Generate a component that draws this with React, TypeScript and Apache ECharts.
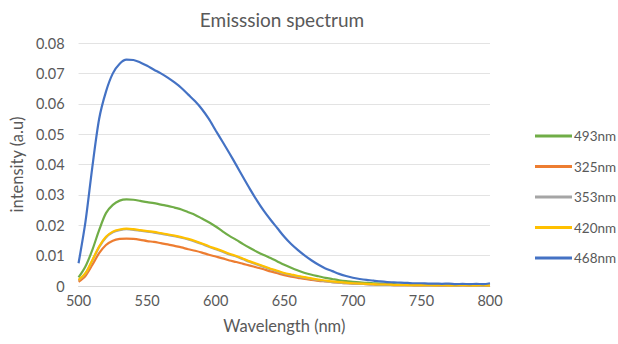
import React, { useEffect, useRef } from "react";
import * as echarts from "echarts";

const wavelengths: number[] = [
  500, 505, 510, 515, 520, 525, 530, 535, 540, 545, 550, 555, 560, 565, 570, 575, 580, 585, 590, 595,
  600, 605, 610, 615, 620, 625, 630, 635, 640, 645, 650, 655, 660, 665, 670, 675, 680, 685, 690, 695,
  700, 705, 710, 715, 720, 725, 730, 735, 740, 745, 750, 755, 760, 765, 770, 775, 780, 785, 790, 795, 800,
];

const s493: number[] = [
  0.0028, 0.0064, 0.0118, 0.0184, 0.024, 0.0267, 0.0281, 0.0285, 0.0284, 0.028, 0.0276, 0.0273, 0.0268, 0.0264, 0.0258, 0.0252, 0.0243, 0.0234, 0.0222, 0.021,
  0.0196, 0.018, 0.0165, 0.0152, 0.0138, 0.0125, 0.0113, 0.0102, 0.0092, 0.0081, 0.007, 0.006, 0.0051, 0.0043, 0.0037, 0.0032, 0.0027, 0.0023, 0.0019, 0.0016,
  0.0014, 0.0012, 0.001, 0.0009, 0.0008, 0.0007, 0.0006, 0.0005, 0.0005, 0.0004, 0.0004, 0.0004, 0.0003, 0.0004, 0.0003, 0.0003, 0.0004, 0.0003, 0.0003, 0.0002, 0.0003,
];

const s325: number[] = [
  0.0014, 0.0033, 0.0069, 0.0108, 0.0135, 0.0149, 0.0155, 0.0156, 0.0155, 0.0152, 0.0148, 0.0145, 0.0141, 0.0137, 0.0132, 0.0127, 0.0121, 0.0116, 0.011, 0.0103,
  0.0097, 0.0091, 0.0084, 0.0079, 0.0073, 0.0067, 0.0061, 0.0055, 0.0048, 0.0042, 0.0036, 0.0031, 0.0027, 0.0023, 0.002, 0.0017, 0.0015, 0.0013, 0.0011, 0.0009,
  0.0008, 0.0007, 0.0006, 0.0005, 0.0004, 0.0004, 0.0003, 0.0003, 0.0003, 0.0002, 0.0002, 0.0002, 0.0002, 0.0001, 0.0002, 0.0001, 0.0002, 0.0001, 0.0001, 0.0002, 0.0001,
];

const s353: number[] = [
  0.0019, 0.0041, 0.0083, 0.0128, 0.016, 0.0177, 0.0184, 0.0187, 0.0185, 0.0182, 0.0179, 0.0176, 0.0172, 0.0168, 0.0164, 0.0159, 0.0153, 0.0146, 0.0138, 0.0129,
  0.0121, 0.0113, 0.0104, 0.0097, 0.0088, 0.0079, 0.0071, 0.0063, 0.0055, 0.0048, 0.0041, 0.0036, 0.0031, 0.0027, 0.0023, 0.0019, 0.0016, 0.0013, 0.0011, 0.0009,
  0.0008, 0.0007, 0.0006, 0.0005, 0.0004, 0.0004, 0.0003, 0.0003, 0.0003, 0.0002, 0.0002, 0.0002, 0.0002, 0.0002, 0.0002, 0.0001, 0.0002, 0.0002, 0.0001, 0.0002, 0.0002,
];

const s420: number[] = [
  0.002, 0.0042, 0.0085, 0.013, 0.0162, 0.0179, 0.0186, 0.0189, 0.0187, 0.0184, 0.0181, 0.0178, 0.0174, 0.017, 0.0166, 0.0161, 0.0155, 0.0148, 0.014, 0.0131,
  0.0123, 0.0115, 0.0106, 0.0099, 0.009, 0.0081, 0.0073, 0.0065, 0.0057, 0.005, 0.0043, 0.0038, 0.0033, 0.0029, 0.0025, 0.0021, 0.0018, 0.0015, 0.0013, 0.0011,
  0.0009, 0.0008, 0.0007, 0.0006, 0.0005, 0.0005, 0.0004, 0.0004, 0.0003, 0.0003, 0.0003, 0.0003, 0.0002, 0.0003, 0.0002, 0.0002, 0.0003, 0.0002, 0.0002, 0.0003, 0.0002,
];

const s468: number[] = [
  0.0075, 0.021, 0.039, 0.055, 0.064, 0.07, 0.0732, 0.0745, 0.0744, 0.0736, 0.0725, 0.0712, 0.07, 0.0686, 0.067, 0.0652, 0.063, 0.0608, 0.0582, 0.055,
  0.0512, 0.0475, 0.0437, 0.0398, 0.0358, 0.0319, 0.0282, 0.0248, 0.0218, 0.019, 0.0162, 0.0138, 0.0118, 0.01, 0.0084, 0.007, 0.0058, 0.0049, 0.004, 0.0033,
  0.0027, 0.0023, 0.002, 0.0018, 0.0015, 0.0013, 0.0012, 0.0011, 0.001, 0.0009, 0.0009, 0.0008, 0.0008, 0.0007, 0.0008, 0.0006, 0.0007, 0.0006, 0.0007, 0.0006, 0.0009,
];

const seriesNames: string[] = ["493nm", "325nm", "353nm", "420nm", "468nm"];
const seriesColors: string[] = ["#70AD47", "#ED7D31", "#A5A5A5", "#FFC000", "#4472C4"];
const seriesValues: number[][] = [s493, s325, s353, s420, s468];

const FONT = "Lato, 'Noto Sans', sans-serif";
const TXT = "#595959";

export default function App() {
  const ref = useRef<HTMLDivElement>(null);
  useEffect(() => {
    if (!ref.current) return;
    const chart = echarts.init(ref.current, undefined, { renderer: "svg" });
    chart.setOption({
      animation: false,
      backgroundColor: "#ffffff",
      title: {
        text: "Emisssion spectrum",
        left: 277,
        textAlign: "center",
        top: 5,
        textStyle: { fontFamily: FONT, fontSize: 19, fontWeight: "normal", color: TXT },
      },
      legend: {
        orient: "vertical",
        left: 530,
        top: 123,
        itemWidth: 37,
        itemHeight: 3,
        itemGap: 14.5,
        icon: "rect",
        data: seriesNames,
        textStyle: { fontFamily: FONT, fontSize: 13.5, color: TXT, lineHeight: 16, padding: [0, 0, 0, -3] },
      },
      grid: { left: 76, right: 128, top: 43, bottom: 58, containLabel: false },
      xAxis: {
        type: "value",
        min: 500,
        max: 800,
        interval: 50,
        name: "Wavelength (nm)",
        nameLocation: "middle",
        nameGap: 31,
        nameTextStyle: { fontFamily: FONT, fontSize: 16.5, color: TXT },
        axisLine: { show: true, lineStyle: { color: "#d9d9d9", width: 1 } },
        axisTick: { show: false },
        splitLine: { show: false },
        axisLabel: { fontFamily: FONT, fontSize: 14.5, color: TXT, margin: 7 },
      },
      yAxis: {
        type: "value",
        min: 0,
        max: 0.08,
        interval: 0.01,
        name: "intensity (a.u)",
        nameLocation: "middle",
        nameGap: 50,
        nameTextStyle: { fontFamily: FONT, fontSize: 16.5, color: TXT },
        axisLine: { show: false },
        axisTick: { show: false },
        splitLine: { show: true, lineStyle: { color: "#e3e3e3", width: 1 } },
        axisLabel: {
          fontFamily: FONT,
          fontSize: 14.5,
          color: TXT,
          margin: 14,
          formatter: (v: number) => (v === 0 ? "0" : v.toFixed(2)),
        },
      },
      series: seriesNames.map((name, i) => ({
        name,
        type: "line",
        showSymbol: false,
        symbol: "none",
        smooth: 0.3,
        color: seriesColors[i],
        lineStyle: { width: 2.2, color: seriesColors[i] },
        data: wavelengths.map((w, j) => [w, seriesValues[i][j]]),
      })),
    });
    return () => chart.dispose();
  }, []);
  return <div ref={ref} style={{ width: 618, height: 344, position: "absolute", left: 0, top: 0 }} />;
}
